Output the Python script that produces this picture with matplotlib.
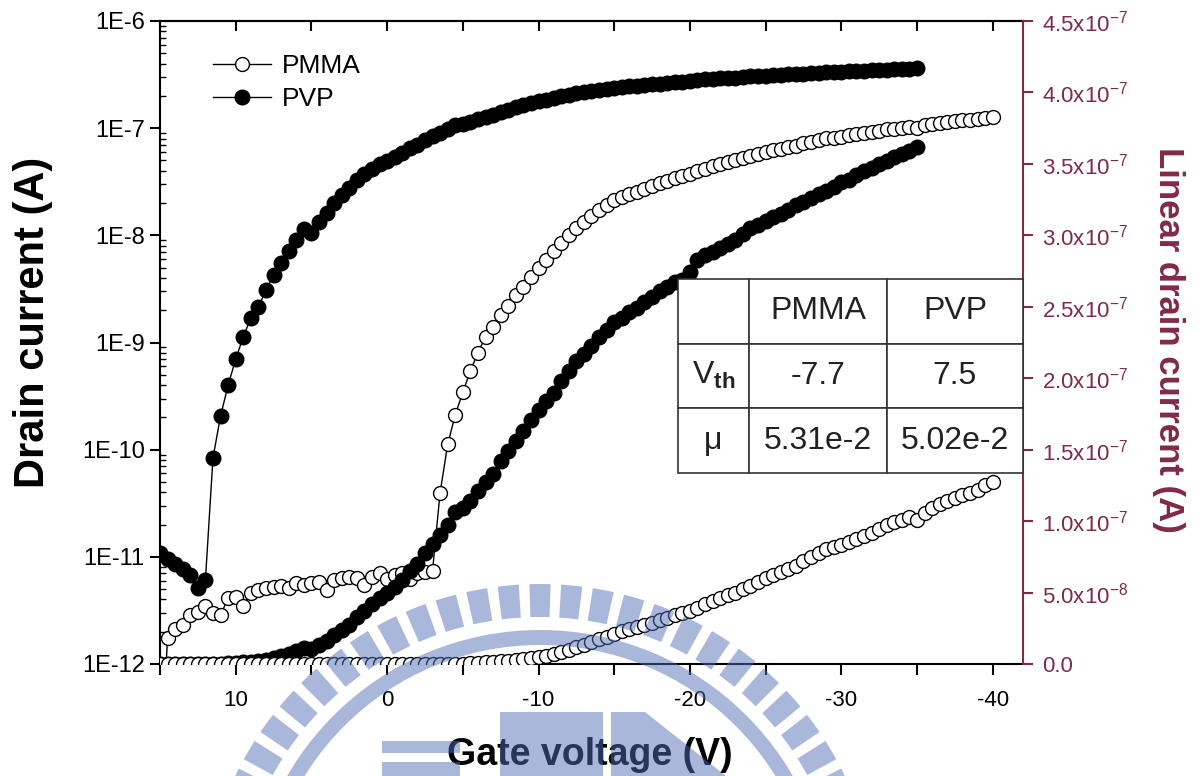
import numpy as np
import matplotlib
matplotlib.use("Agg")
import matplotlib.pyplot as plt
from matplotlib.ticker import MultipleLocator, LogLocator, FuncFormatter, NullFormatter
from matplotlib.patches import Wedge, Rectangle, Polygon
from matplotlib.transforms import IdentityTransform

plt.rcParams['font.family'] = ['Liberation Sans', 'DejaVu Sans']
plt.rcParams['mathtext.fontset'] = 'custom'
plt.rcParams['mathtext.rm'] = 'Liberation Sans'
plt.rcParams['mathtext.bf'] = 'Liberation Sans:bold'
plt.rcParams['mathtext.it'] = 'Liberation Sans:italic'
plt.rcParams['axes.unicode_minus'] = False

maroon = '#7f2a48'

# gate sweep, 0.5 V steps
gate_pmma = np.arange(15, -40.5, -0.5)
gate_pvp = np.arange(15, -35.5, -0.5)

# drain current (A), same data shown on log (left) and linear (right) axes
pmma_current = [
    1.0e-13, 1.74e-12, 2.11e-12, 2.31e-12, 2.87e-12, 3.08e-12, 3.48e-12, 3.01e-12, 2.87e-12, 4.10e-12,
    4.25e-12, 3.48e-12, 4.57e-12, 4.90e-12, 5.09e-12, 5.27e-12, 5.35e-12, 5.09e-12, 5.66e-12, 5.46e-12,
    5.74e-12, 5.86e-12, 4.90e-12, 6.08e-12, 6.30e-12, 6.44e-12, 6.30e-12, 5.46e-12, 6.53e-12, 7.02e-12,
    6.17e-12, 6.77e-12, 7.02e-12, 6.17e-12, 7.11e-12, 7.26e-12, 7.42e-12,
    3.97e-11, 1.12e-10, 2.11e-10, 3.43e-10, 5.42e-10, 8.04e-10, 1.13e-9, 1.40e-9, 1.81e-9, 2.19e-9,
    2.77e-9, 3.30e-9, 4.08e-9, 4.96e-9, 5.89e-9, 7.14e-9, 8.48e-9, 1.01e-8, 1.17e-8, 1.33e-8,
    1.51e-8, 1.72e-8, 1.92e-8, 2.12e-8,
    2.28e-8, 2.42e-8, 2.56e-8, 2.72e-8, 2.88e-8, 3.06e-8, 3.23e-8, 3.41e-8, 3.56e-8, 3.72e-8,
    3.95e-8, 4.18e-8, 4.40e-8, 4.60e-8, 4.80e-8, 5.00e-8, 5.25e-8, 5.48e-8, 5.75e-8, 6.00e-8,
    6.22e-8, 6.42e-8, 6.65e-8, 6.87e-8, 7.20e-8, 7.50e-8, 7.80e-8, 8.05e-8, 8.18e-8, 8.33e-8,
    8.56e-8, 8.78e-8, 8.98e-8, 9.20e-8, 9.48e-8, 9.73e-8, 9.92e-8, 1.01e-7, 1.03e-7, 1.008e-7,
    1.06e-7, 1.095e-7, 1.12e-7, 1.141e-7, 1.16e-7, 1.183e-7, 1.20e-7, 1.221e-7, 1.25e-7, 1.276e-7,
]
pvp_current = [
    1.09e-11, 9.6e-12, 8.6e-12, 7.7e-12, 6.8e-12, 5.1e-12, 6.1e-12, 8.4e-11, 2.06e-10, 4.0e-10,
    7.0e-10, 1.13e-9, 1.69e-9, 2.14e-9, 3.09e-9, 4.27e-9, 5.5e-9, 7.1e-9, 9.05e-9, 1.15e-8,
    1.05e-8, 1.33e-8, 1.61e-8, 2.0e-8, 2.38e-8, 2.76e-8, 3.28e-8, 3.73e-8, 4.2e-8, 4.6e-8,
    4.97e-8, 5.42e-8, 5.88e-8, 6.51e-8, 7.03e-8, 7.77e-8, 8.43e-8, 9.03e-8, 9.73e-8, 1.064e-7,
    1.092e-7, 1.141e-7, 1.211e-7, 1.277e-7, 1.33e-7, 1.421e-7, 1.491e-7, 1.561e-7, 1.631e-7, 1.708e-7,
    1.778e-7, 1.84e-7, 1.90e-7, 1.98e-7, 2.05e-7, 2.12e-7, 2.17e-7, 2.225e-7, 2.29e-7, 2.34e-7,
    2.39e-7, 2.42e-7, 2.46e-7, 2.49e-7, 2.53e-7, 2.57e-7, 2.61e-7, 2.64e-7, 2.67e-7, 2.69e-7,
    2.74e-7, 2.83e-7, 2.86e-7, 2.88e-7, 2.91e-7, 2.94e-7, 2.97e-7, 3.01e-7, 3.05e-7, 3.07e-7,
    3.10e-7, 3.13e-7, 3.15e-7, 3.18e-7, 3.21e-7, 3.23e-7, 3.26e-7, 3.29e-7, 3.31e-7, 3.34e-7,
    3.37e-7, 3.39e-7, 3.42e-7, 3.45e-7, 3.47e-7, 3.50e-7, 3.52e-7, 3.55e-7, 3.57e-7, 3.59e-7,
    3.62e-7,
]
assert len(pmma_current) == len(gate_pmma)
assert len(pvp_current) == len(gate_pvp)

table_header = ['', 'PMMA', 'PVP']
table_vth = [r'$\mathrm{V}_{\mathbf{th}}$', '-7.7', '7.5']
table_mu = ['\u03bc', '5.31e-2', '5.02e-2']

W, H = 1201, 776
fig = plt.figure(figsize=(W / 100, H / 100), dpi=100)
ax = fig.add_axes([160 / W, 1 - 664 / H, 863 / W, 643 / H])
ax2 = ax.twinx()

open_style = dict(color='black', lw=1.0, marker='o', ms=10, mfc='white', mec='black', mew=1.0)
fill_style = dict(color='black', lw=1.0, marker='o', ms=10.5, mfc='black', mec='black')

pvp_line, = ax.plot(gate_pvp, pvp_current, label='PVP', **fill_style)
pmma_line, = ax.plot(gate_pmma, pmma_current, label='PMMA', **open_style)
ax2.plot(gate_pvp, pvp_current, **fill_style)
ax2.plot(gate_pmma, pmma_current, **open_style)

ax.set_xlim(15, -42)
ax.set_yscale('log')
ax.set_ylim(1e-12, 1e-6)
ax2.set_ylim(0, 4.5e-7)

# x axis: outward ticks below, inward ticks on top
ax.xaxis.set_major_locator(MultipleLocator(10))
ax.xaxis.set_minor_locator(MultipleLocator(5))
ax.tick_params(axis='x', which='both', direction='out', length=8, width=1.5,
               top=False, labelsize=16, pad=11)
top = ax.secondary_xaxis('top')
top.xaxis.set_major_locator(MultipleLocator(5))
top.tick_params(direction='in', length=7, width=1.5, labeltop=False)
top.spines['top'].set_linewidth(1.5)

# left log axis
ax.yaxis.set_major_locator(LogLocator(base=10, numticks=10))
ax.yaxis.set_minor_locator(LogLocator(base=10, subs=np.arange(2, 10), numticks=10))
ax.yaxis.set_minor_formatter(NullFormatter())
ax.yaxis.set_major_formatter(FuncFormatter(lambda v, p: '1E%d' % round(np.log10(v))))
ax.tick_params(axis='y', which='major', direction='out', length=7, width=1.5, labelsize=17, pad=4)
ax.tick_params(axis='y', which='minor', direction='in', length=4, width=1.0)


def lin_fmt(v, p):
    if v < -1e-12:
        return ''
    if v < 1e-12:
        return '0.0'
    e = int(np.floor(np.log10(v) + 1e-9))
    return r'$\mathregular{%.1fx10^{%d}}$' % (v / 10 ** e, e)


ax2.yaxis.set_major_locator(MultipleLocator(0.5e-7))
ax2.yaxis.set_major_formatter(FuncFormatter(lin_fmt))
ax2.tick_params(axis='y', direction='out', length=7, width=1.5, colors=maroon, labelsize=16, pad=7)

for s in ['left', 'bottom', 'top']:
    ax.spines[s].set_linewidth(1.5)
ax.spines['right'].set_visible(False)
for s in ['left', 'bottom', 'top']:
    ax2.spines[s].set_visible(False)
ax2.spines['right'].set_color(maroon)
ax2.spines['right'].set_linewidth(1.5)

fig.text(590 / W, 1 - 755 / H, 'Gate voltage (V)', fontsize=27, fontweight='bold',
         ha='center', va='center')
fig.text(33 / W, 1 - 322 / H, 'Drain current (A)', fontsize=30, fontweight='bold',
         rotation=90, ha='center', va='center')
fig.text(1168 / W, 1 - 340 / H, 'Linear drain current (A)', fontsize=25, fontweight='bold',
         color=maroon, rotation=270, ha='center', va='center')

ax.legend(handles=[pmma_line, pvp_line], loc='upper left', bbox_to_anchor=(0.0614, 0.948),
          frameon=False, fontsize=19, handlelength=2.2, handletextpad=0.4, labelspacing=0.32,
          borderpad=0, borderaxespad=0, numpoints=1)

tbl = ax2.table(cellText=[table_header, table_vth, table_mu], cellLoc='center',
                colWidths=[0.206, 0.4, 0.394], bbox=[0.6, 0.297, 0.4, 0.302], zorder=5)
tbl.auto_set_font_size(False)
for cell in tbl.get_celld().values():
    cell.set_linewidth(1.2)
    cell.set_edgecolor('#333333')
    cell.set_facecolor('white')
    cell.get_text().set_fontsize(23)
    cell.get_text().set_color('#222222')

# faint university-logo watermark lying over the lower part of the scan (pixel coords)
wm = dict(facecolor=(80 / 255, 110 / 255, 180 / 255), edgecolor='none', alpha=0.49,
          transform=IdentityTransform(), zorder=50)
cx, cy = 540, H - 922
for k in range(-33, 34):
    t = 90 + 5.4 * k
    fig.patches.append(Wedge((cx, cy), 338, t - 1.8, t + 1.8, width=33, **wm))
fig.patches.append(Wedge((cx, cy), 292, 0, 180, width=15, **wm))
fig.patches.append(Rectangle((382, H - 753), 78, 12, **wm))
fig.patches.append(Rectangle((382, H - 776), 78, 14, **wm))
fig.patches.append(Rectangle((500, H - 776), 103, 64, **wm))
fig.patches.append(Polygon([(611, H - 712), (645, H - 712), (726, H - 776), (611, H - 776)], **wm))

fig.savefig('out.png', dpi=100)
